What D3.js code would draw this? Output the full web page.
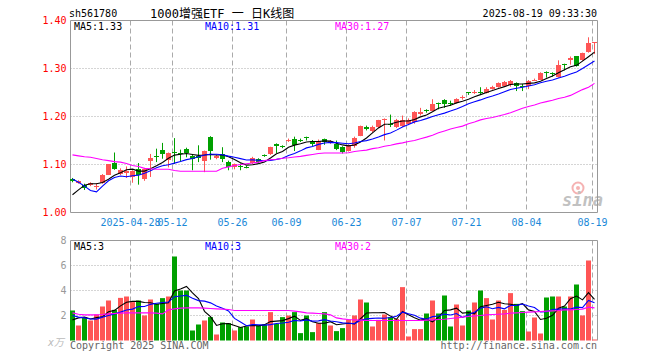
<!DOCTYPE html>
<html><head><meta charset="utf-8">
<script src="https://cdn.jsdelivr.net/npm/d3@7/dist/d3.min.js"></script>
<style>
body{margin:0;background:#fff}
svg{display:block}
text{font-family:"DejaVu Sans Mono","Noto Sans CJK SC",monospace}
</style>
</head><body>
<svg id="c" width="660" height="360"></svg>
<script>
// ---------- data ----------
const dates = ["04-14","04-15","04-16","04-17","04-18","04-21","04-22","04-23","04-24","04-25",
"04-28","04-29","04-30","05-06","05-07","05-08","05-09","05-12","05-13","05-14",
"05-15","05-16","05-19","05-20","05-21","05-22","05-23","05-26","05-27","05-28",
"05-29","05-30","06-03","06-04","06-05","06-06","06-09","06-10","06-11","06-12",
"06-13","06-16","06-17","06-18","06-19","06-20","06-23","06-24","06-25","06-26",
"06-27","06-30","07-01","07-02","07-03","07-04","07-07","07-08","07-09","07-10",
"07-11","07-14","07-15","07-16","07-17","07-18","07-21","07-22","07-23","07-24",
"07-25","07-28","07-29","07-30","07-31","08-01","08-04","08-05","08-06","08-07",
"08-08","08-11","08-12","08-13","08-14","08-15","08-18","08-19"];
const openP = [1.070,1.062,1.058,1.058,1.055,1.062,1.079,1.103,1.081,1.082,
1.074,1.091,1.069,1.108,1.118,1.131,1.110,1.127,1.125,1.133,
1.117,1.118,1.108,1.158,1.113,1.122,1.106,1.095,1.097,1.095,
1.103,1.112,1.119,1.121,1.143,1.138,1.150,1.154,1.151,1.157,
1.150,1.131,1.153,1.145,1.143,1.136,1.129,1.138,1.160,1.179,
1.169,1.178,1.192,1.184,1.178,1.181,1.185,1.188,1.205,1.213,
1.212,1.229,1.235,1.228,1.229,1.240,1.250,1.251,1.251,1.249,
1.258,1.262,1.264,1.266,1.270,1.263,1.263,1.276,1.277,1.292,
1.290,1.282,1.309,1.317,1.325,1.318,1.334,1.354];
const closeP = [1.065,1.066,1.051,1.061,1.056,1.079,1.100,1.091,1.089,1.086,
1.086,1.079,1.091,1.114,1.116,1.121,1.123,1.124,1.123,1.124,
1.111,1.113,1.128,1.129,1.118,1.111,1.094,1.100,1.095,1.094,
1.114,1.106,1.118,1.136,1.138,1.137,1.151,1.140,1.150,1.156,
1.143,1.150,1.147,1.148,1.133,1.126,1.140,1.156,1.180,1.174,
1.179,1.192,1.194,1.183,1.192,1.192,1.192,1.210,1.210,1.212,
1.225,1.228,1.226,1.227,1.236,1.241,1.249,1.252,1.250,1.258,
1.262,1.269,1.272,1.273,1.263,1.262,1.275,1.277,1.291,1.291,
1.289,1.308,1.308,1.322,1.306,1.333,1.354,1.355];
const highP = [1.072,1.067,1.060,1.063,1.061,1.080,1.101,1.125,1.092,1.096,
1.088,1.103,1.093,1.122,1.133,1.145,1.125,1.155,1.131,1.135,
1.122,1.140,1.129,1.159,1.120,1.136,1.108,1.102,1.102,1.097,
1.116,1.113,1.121,1.137,1.144,1.140,1.154,1.158,1.154,1.158,
1.151,1.152,1.154,1.151,1.150,1.138,1.142,1.158,1.181,1.181,
1.181,1.193,1.196,1.204,1.195,1.202,1.196,1.211,1.218,1.215,
1.236,1.229,1.236,1.233,1.238,1.244,1.251,1.255,1.261,1.261,
1.264,1.271,1.274,1.276,1.271,1.268,1.276,1.279,1.292,1.294,
1.292,1.317,1.310,1.325,1.325,1.333,1.365,1.355];
const lowP = [1.063,1.060,1.047,1.055,1.048,1.060,1.078,1.089,1.078,1.072,
1.062,1.058,1.066,1.074,1.105,1.112,1.094,1.101,1.106,1.115,
1.088,1.105,1.084,1.110,1.111,1.105,1.088,1.090,1.088,1.092,
1.101,1.103,1.116,1.120,1.124,1.134,1.147,1.128,1.147,1.150,
1.138,1.130,1.141,1.143,1.130,1.123,1.127,1.135,1.159,1.171,
1.167,1.176,1.150,1.178,1.176,1.178,1.182,1.185,1.202,1.208,
1.211,1.215,1.218,1.222,1.227,1.235,1.245,1.247,1.247,1.248,
1.256,1.260,1.262,1.262,1.253,1.253,1.257,1.274,1.276,1.281,
1.283,1.281,1.296,1.308,1.304,1.316,1.333,1.330];
const volume = [2.40,1.20,1.87,1.60,2.08,2.72,3.20,2.45,3.41,3.52,
3.07,3.20,2.00,3.28,2.93,3.39,3.52,6.72,4.00,4.00,
0.80,1.28,1.60,1.87,0.48,1.44,1.39,0.80,1.07,1.12,
1.68,1.20,1.28,2.27,1.33,1.87,2.00,2.27,0.59,2.00,
0.67,1.39,2.27,1.20,0.75,0.99,1.68,2.00,3.28,3.04,
1.12,1.65,2.08,1.87,1.73,4.27,0.32,0.91,0.91,2.16,
3.20,2.16,3.60,1.12,2.88,1.20,2.40,3.04,4.00,3.39,
1.68,3.20,2.45,3.79,2.93,2.35,0.72,1.84,0.56,3.44,
3.52,3.52,2.72,3.52,4.48,2.00,6.40,0.08];
// moving averages that need data from before the first visible day
const ma5Lead = [1.037,1.047,1.057,1.060];
const ma10Lead = [1.070,1.063,1.055,1.046,1.043,1.055,1.066,1.073,1.076];
const ma30 = [1.120,1.118,1.116,1.115,1.1125,1.110,1.108,1.106,1.105,1.102,
1.098,1.096,1.092,1.091,1.090,1.090,1.090,1.0875,1.086,1.086,
1.086,1.086,1.086,1.086,1.086,1.092,1.095,1.098,1.100,1.1015,
1.103,1.105,1.108,1.110,1.111,1.113,1.114,1.1155,1.117,1.119,
1.121,1.123,1.124,1.124,1.124,1.124,1.1245,1.127,1.1285,1.130,
1.133,1.135,1.138,1.140,1.143,1.145,1.148,1.150,1.1535,1.157,
1.161,1.166,1.170,1.174,1.177,1.180,1.185,1.1885,1.193,1.196,
1.198,1.201,1.204,1.208,1.2125,1.217,1.221,1.224,1.228,1.231,
1.234,1.2375,1.240,1.244,1.250,1.256,1.261,1.269];
const volMa5Lead = [1.65,1.81,1.87,1.72];
const volMa10Lead = [2.00,1.87,1.81,1.72,1.71,1.87,2.00,2.13,2.27];
const volMa30 = [2.21,2.10,2.05,2.05,2.05,2.08,2.13,2.16,2.19,2.21,
2.21,2.21,2.21,2.21,2.19,2.13,2.45,2.53,2.59,2.61,
2.61,2.61,2.59,2.56,2.53,2.51,2.48,2.40,2.40,2.40,
2.40,2.40,2.40,2.40,2.40,2.40,2.40,2.35,2.29,2.21,
2.19,2.16,2.13,2.05,1.81,1.73,1.68,1.65,1.63,1.60,
1.60,1.60,1.60,1.60,1.60,1.60,1.60,1.60,1.60,1.63,
1.65,1.68,1.70,1.76,1.81,1.87,1.92,1.97,2.00,2.05,
2.08,2.10,2.13,2.19,2.21,2.24,2.27,2.29,2.32,2.35,
2.37,2.40,2.45,2.45,2.48,2.51,2.67,2.61];
const priceTicks = [1.00,1.10,1.20,1.30,1.40];
const volTicks = [2,4,6,8];
const dateTicks = ["04-28","05-12","05-26","06-09","06-23","07-07","07-21","08-04","08-19"];
const dateTickLabels = ["2025-04-28","05-12","05-26","06-09","06-23","07-07","07-21","08-04","08-19"];
const symbol = "sh561780";
const title = "1000增强ETF 一 日K线图";
const stamp = "2025-08-19 09:33:30";
const priceMaLabels = ["MA5:1.33","MA10:1.31","MA30:1.27"];
const volMaLabels = ["MA5:3","MA10:3","MA30:2"];

// ---------- helpers ----------
function movingAvg(arr, n, lead){
  return arr.map((v,i)=> i < n-1 ? lead[i] : d3.mean(arr.slice(i-n+1,i+1)));
}
const ma5 = movingAvg(closeP,5,ma5Lead), ma10 = movingAvg(closeP,10,ma10Lead);
const vma5 = movingAvg(volume,5,volMa5Lead), vma10 = movingAvg(volume,10,volMa10Lead);

const UP="#ff5555", DOWN="#00a000", GRID="#aaaaaa", AXIS="#999999";
const maColors = ["#000000","#0000ff","#ff00ff"];
const svg = d3.select("#c");
const L=70.5, R=597.5;
const x = d3.scaleBand().domain(d3.range(dates.length)).range([69.5,597.5]).paddingInner(0);
const cx = i => x(i)+x.bandwidth()/2;
const yP = d3.scaleLinear().domain([1.0,1.4]).range([212.5,20.5]);
const yV = d3.scaleLinear().domain([0,8]).range([340.5,240.5]);

// header
svg.append("text").attr("x",69).attr("y",17).attr("font-size",10).text(symbol);
svg.append("text").attr("x",150).attr("y",18).attr("font-size",12).text(title);
svg.append("text").attr("x",597).attr("y",17).attr("font-size",10).attr("text-anchor","end").text(stamp);

function panelFrame(y, top, bottom, ticks, fmt, labColor, withBottom){
  const g = svg.append("g");
  ticks.forEach(t=>{
    const yy = Math.round(y(t)-0.5)+0.5;
    if (Math.abs(yy-top)>1 && Math.abs(yy-bottom)>1)
      g.append("line").attr("x1",L).attr("x2",R).attr("y1",yy).attr("y2",yy)
        .attr("stroke",GRID).attr("stroke-dasharray","1,2");
  });
  dateTicks.forEach(d=>{
    const xx = cx(dates.indexOf(d))-2;
    g.append("line").attr("x1",xx).attr("x2",xx).attr("y1",top).attr("y2",bottom)
      .attr("stroke",GRID).attr("stroke-dasharray","5,3");
  });
  g.append("line").attr("x1",L).attr("x2",R).attr("y1",top).attr("y2",top).attr("stroke",AXIS);
  g.append("line").attr("x1",L).attr("x2",L).attr("y1",top).attr("y2",bottom).attr("stroke",AXIS);
  g.append("line").attr("x1",R).attr("x2",R).attr("y1",top).attr("y2",bottom).attr("stroke",AXIS);
  if (withBottom) g.append("line").attr("x1",L).attr("x2",R).attr("y1",bottom).attr("y2",bottom).attr("stroke",AXIS);
  ticks.forEach(t=>{
    g.append("text").attr("x",66.5).attr("y",y(t)+3.5).attr("font-size",10)
      .attr("text-anchor","end").attr("fill",labColor).text(fmt(t));
  });
}
panelFrame(yP,20.5,212.5,priceTicks,d3.format(".2f"),"#ff0000",true);
panelFrame(yV,240.5,340.5,volTicks,d3.format("d"),"#999999",false);

// date labels
dateTicks.forEach((d,k)=>{
  svg.append("text").attr("x",cx(dates.indexOf(d))-2).attr("y",226).attr("font-size",10)
    .attr("text-anchor","middle").attr("fill","#1a88d8").text(dateTickLabels[k]);
});

// watermark
const wm = svg.append("g").attr("opacity",0.6);
wm.append("circle").attr("cx",578).attr("cy",188).attr("r",5.5).attr("fill","none").attr("stroke","#f08080").attr("stroke-width",2);
wm.append("circle").attr("cx",578).attr("cy",188).attr("r",2).attr("fill","#f08080");
wm.append("text").attr("x",562).attr("y",206).attr("font-size",17).attr("font-style","italic")
  .attr("font-weight","bold").attr("font-family","DejaVu Sans").attr("fill","#999").text("sina");

// candles
const cg = svg.append("g");
dates.forEach((d,i)=>{
  const up = closeP[i] >= openP[i];
  const col = up?UP:DOWN;
  const xc = cx(i);
  cg.append("line").attr("x1",xc).attr("x2",xc).attr("y1",yP(highP[i])).attr("y2",yP(lowP[i]))
    .attr("stroke",col).attr("stroke-width",1);
  const yt = yP(Math.max(openP[i],closeP[i])), yb = yP(Math.min(openP[i],closeP[i]));
  cg.append("rect").attr("x",xc-2.5).attr("width",5).attr("y",Math.round(yt))
    .attr("height",Math.max(1,Math.round(yb)-Math.round(yt))).attr("fill",col);
});
// volume bars
dates.forEach((d,i)=>{
  const up = closeP[i] >= openP[i];
  cg.append("rect").attr("x",cx(i)-2.5).attr("width",5).attr("y",yV(volume[i]))
    .attr("height",yV(0)-yV(volume[i])).attr("fill",up?UP:DOWN);
});

// MA lines
const lineP = d3.line().x((v,i)=>cx(i)).y(v=>yP(v));
const lineV = d3.line().x((v,i)=>cx(i)).y(v=>yV(v));
[ma5,ma10,ma30].forEach((s,k)=>svg.append("path").attr("d",lineP(s)).attr("fill","none").attr("stroke",maColors[k]).attr("stroke-width",1.1));
[vma5,vma10,volMa30].forEach((s,k)=>svg.append("path").attr("d",lineV(s)).attr("fill","none").attr("stroke",maColors[k]).attr("stroke-width",1.1));

// MA legends
const lx = [74,205,335];
priceMaLabels.forEach((t,k)=>svg.append("text").attr("x",lx[k]).attr("y",30).attr("font-size",10).attr("fill",maColors[k]).text(t));
volMaLabels.forEach((t,k)=>svg.append("text").attr("x",lx[k]).attr("y",250).attr("font-size",10).attr("fill",maColors[k]).text(t));

// footer
svg.append("text").attr("x",48).attr("y",346).attr("font-size",10).attr("fill","#bbb").attr("font-style","italic").text("x万");
svg.append("text").attr("x",70).attr("y",349).attr("font-size",10).attr("fill","#666").text("Copyright 2025 SINA.COM");
svg.append("text").attr("x",597).attr("y",349).attr("font-size",10).attr("fill","#666").attr("text-anchor","end").text("http://finance.sina.com.cn");
</script>
</body></html>
